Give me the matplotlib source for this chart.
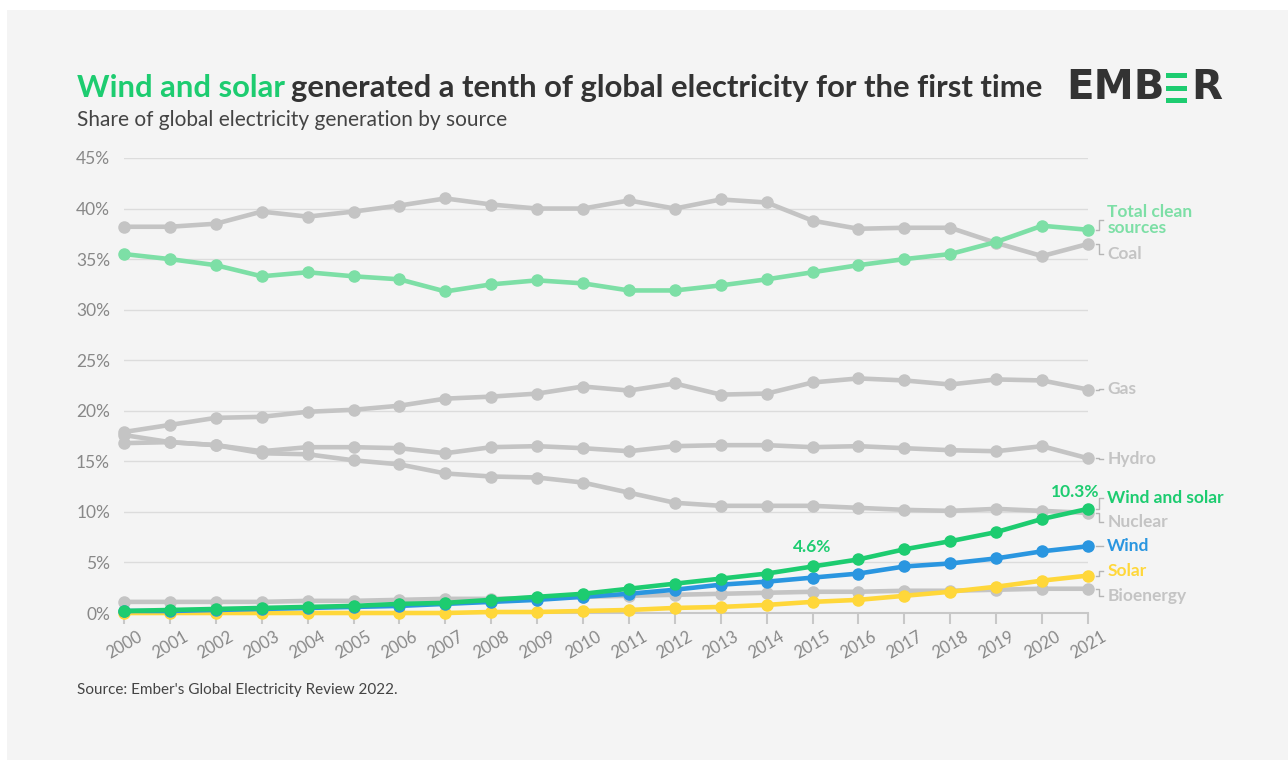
import matplotlib.pyplot as plt
from matplotlib.patches import Rectangle
from matplotlib.transforms import ScaledTranslation

plt.rcParams['font.family'] = ['Lato', 'DejaVu Sans']

years = list(range(2000, 2022))

coal = [38.2, 38.2, 38.5, 39.7, 39.2, 39.7, 40.3, 41.0, 40.4, 40.0, 40.0,
        40.8, 40.0, 40.9, 40.6, 38.8, 38.0, 38.1, 38.1, 36.6, 35.3, 36.5]
clean = [35.5, 35.0, 34.4, 33.3, 33.7, 33.3, 33.0, 31.8, 32.5, 32.9, 32.6,
         31.9, 31.9, 32.4, 33.0, 33.7, 34.4, 35.0, 35.5, 36.7, 38.3, 37.9]
gas = [17.9, 18.6, 19.3, 19.4, 19.9, 20.1, 20.5, 21.2, 21.4, 21.7, 22.4,
       22.0, 22.7, 21.6, 21.7, 22.8, 23.2, 23.0, 22.6, 23.1, 23.0, 22.1]
hydro = [16.8, 16.9, 16.6, 16.0, 16.4, 16.4, 16.3, 15.8, 16.4, 16.5, 16.3,
         16.0, 16.5, 16.6, 16.6, 16.4, 16.5, 16.3, 16.1, 16.0, 16.5, 15.3]
nuclear = [17.6, 16.9, 16.6, 15.8, 15.7, 15.1, 14.7, 13.8, 13.5, 13.4, 12.9,
           11.9, 10.9, 10.6, 10.6, 10.6, 10.4, 10.2, 10.1, 10.3, 10.1, 9.9]
wind_solar = [0.2, 0.3, 0.4, 0.5, 0.6, 0.7, 0.9, 1.0, 1.3, 1.6, 1.9,
              2.4, 2.9, 3.4, 3.9, 4.6, 5.3, 6.3, 7.1, 8.0, 9.3, 10.3]
wind = [0.2, 0.2, 0.3, 0.4, 0.5, 0.6, 0.7, 0.9, 1.1, 1.3, 1.6,
        1.9, 2.3, 2.8, 3.1, 3.5, 3.9, 4.6, 4.9, 5.4, 6.1, 6.6]
solar = [0.0, 0.0, 0.0, 0.0, 0.0, 0.0, 0.0, 0.0, 0.1, 0.1, 0.2,
         0.3, 0.5, 0.6, 0.8, 1.1, 1.3, 1.7, 2.1, 2.6, 3.2, 3.7]
bioenergy = [1.1, 1.1, 1.1, 1.1, 1.2, 1.2, 1.3, 1.4, 1.4, 1.5, 1.6,
             1.7, 1.8, 1.9, 2.0, 2.1, 2.1, 2.2, 2.2, 2.3, 2.4, 2.4]

GREY = '#c4c4c4'
CLEAN = '#7ddfa6'
WS = '#1dcc70'
WIND = '#2a96e0'
SOLAR = '#ffd73a'

# (name, values, colour, label y position)
series = [
    ('Coal', coal, GREY, 35.5),
    ('Gas', gas, GREY, 22.2),
    ('Hydro', hydro, GREY, 15.2),
    ('Nuclear', nuclear, GREY, 9.0),
    ('Bioenergy', bioenergy, GREY, 1.7),
    ('Total clean\nsources', clean, CLEAN, 38.9),
    ('Solar', solar, SOLAR, 4.15),
    ('Wind', wind, WIND, 6.6),
    ('Wind and solar', wind_solar, WS, 11.4),
]

fig = plt.figure(figsize=(12.88, 7.6), dpi=100, facecolor='white')
fig.patches.append(Rectangle((7 / 1288, 0), 1, 750 / 760, transform=fig.transFigure,
                             facecolor='#f4f4f4', edgecolor='none', zorder=-10))

ax = fig.add_axes([124 / 1288, 1 - 613 / 760, 964 / 1288, 455 / 760])
ax.set_facecolor('none')

for i, (name, vals, col, ly) in enumerate(series):
    ax.plot(years, vals, color=col, lw=3.3, marker='o', ms=8, clip_on=False,
            zorder=3 + i, solid_capstyle='round')
    v = vals[-1]
    x0, x1, x2 = 2021.17, 2021.25, 2021.33
    ax.plot([x0, x1, x1, x2], [v, v, ly, ly], color='#b5b5b5', lw=1,
            clip_on=False, zorder=2)
    ax.text(2021.42, ly, name, color=col, fontsize=12.5, fontweight='bold',
            va='center', ha='left', linespacing=1.0, clip_on=False)

ax.text(2015, 4.6 + 1.1, '4.6%', color=WS, fontsize=12.5, fontweight='bold',
        ha='center', va='bottom')
ax.text(2021.25, 10.3 + 0.9, '10.3%', color=WS, fontsize=12.5, fontweight='bold',
        ha='right', va='bottom')

ax.set_xlim(2000, 2021)
ax.set_ylim(0, 45)
ax.set_yticks(range(0, 46, 5))
ax.set_yticklabels([f'{t}%' for t in range(0, 46, 5)])
ax.set_xticks(years)
ax.set_xticklabels([str(y) for y in years], rotation=30, ha='center')
for lab in ax.get_xticklabels():
    lab.set_transform(lab.get_transform() + ScaledTranslation(-0.05, 0, fig.dpi_scale_trans))

ax.grid(axis='y', color='#dcdcdc', lw=1)
ax.set_axisbelow(True)
for s in ['top', 'right', 'left']:
    ax.spines[s].set_visible(False)
ax.spines['bottom'].set_color('#c8c8c8')
ax.spines['bottom'].set_linewidth(1.5)
ax.tick_params(axis='x', length=8, width=1.5, color='#c8c8c8', labelcolor='#888888',
               labelsize=12, pad=3)
ax.tick_params(axis='y', length=0, labelcolor='#888888', labelsize=12.5, pad=10)

# title and subtitle
t1 = fig.text(77 / 1288, 1 - 88 / 760, 'Wind and solar', color=WS, fontsize=22.3,
              fontweight='bold', va='center', ha='left')
fig.canvas.draw()
bb = t1.get_window_extent()
fig.text(bb.x1 / 1288 + 0.005, 1 - 88 / 760, 'generated a tenth of global electricity for the first time',
         color='#333333', fontsize=22.3, fontweight='bold', va='center', ha='left')
fig.text(77 / 1288, 1 - 120 / 760, 'Share of global electricity generation by source',
         color='#444444', fontsize=15, va='center', ha='left')
fig.text(77 / 1288, 1 - 690 / 760, "Source: Ember's Global Electricity Review 2022.",
         color='#444444', fontsize=11, va='center', ha='left')

# logo
fig.text(1066 / 1288, 1 - 88 / 760, 'EMB', color='#333333', fontsize=29,
         fontweight='heavy', family='DejaVu Sans', va='center', ha='left')
fig.text(1222 / 1288, 1 - 88 / 760, 'R', color='#333333', fontsize=29,
         fontweight='heavy', family='DejaVu Sans', va='center', ha='right')
for yb in [73, 86, 98]:
    fig.patches.append(Rectangle((1166 / 1288, 1 - (yb + 5) / 760), 21 / 1288, 5 / 760,
                                 transform=fig.transFigure, facecolor=WS, edgecolor='none'))

fig.savefig('out.png', dpi=100, facecolor=fig.get_facecolor())
